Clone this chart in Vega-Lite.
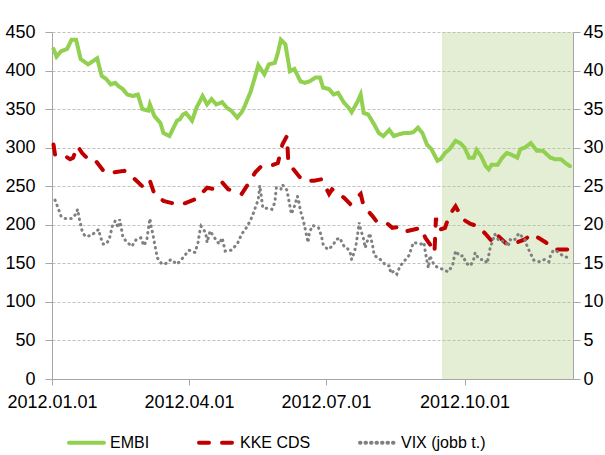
{
  "$schema": "https://vega.github.io/schema/vega-lite/v6.json",
  "width": 521,
  "height": 347,
  "autosize": {"type": "none"},
  "padding": {"left": 52, "top": 32, "right": 32, "bottom": 76},
  "background": "white",
  "config": {
    "view": {"stroke": null},
    "font": "Liberation Sans",
    "axis": {
      "labelFont": "Liberation Sans",
      "labelFontSize": 18,
      "labelColor": "#000000",
      "domainColor": "#a6a6a6",
      "tickColor": "#a6a6a6",
      "title": null
    },
    "legend": {
      "orient": "none",
      "legendX": 15,
      "legendY": 391,
      "direction": "horizontal",
      "labelFont": "Liberation Sans",
      "labelFontSize": 16,
      "labelColor": "#000000",
      "symbolSize": 1225,
      "symbolStrokeWidth": 4,
      "symbolType": "stroke",
      "labelOffset": 4,
      "columnPadding": 41,
      "padding": 0
    }
  },
  "datasets": {
    "band": [{"d": "2012-09-16", "end": "2012-12-12"}],
    "series": [
      {"d": "2012-01-02", "s": "EMBI", "v": 428},
      {"d": "2012-01-04", "s": "EMBI", "v": 418},
      {"d": "2012-01-07", "s": "EMBI", "v": 425},
      {"d": "2012-01-11", "s": "EMBI", "v": 428},
      {"d": "2012-01-14", "s": "EMBI", "v": 440},
      {"d": "2012-01-17", "s": "EMBI", "v": 440},
      {"d": "2012-01-20", "s": "EMBI", "v": 415},
      {"d": "2012-01-25", "s": "EMBI", "v": 408},
      {"d": "2012-01-28", "s": "EMBI", "v": 412},
      {"d": "2012-01-31", "s": "EMBI", "v": 416},
      {"d": "2012-02-03", "s": "EMBI", "v": 393},
      {"d": "2012-02-06", "s": "EMBI", "v": 389},
      {"d": "2012-02-09", "s": "EMBI", "v": 382},
      {"d": "2012-02-12", "s": "EMBI", "v": 384},
      {"d": "2012-02-14", "s": "EMBI", "v": 380},
      {"d": "2012-02-17", "s": "EMBI", "v": 376},
      {"d": "2012-02-20", "s": "EMBI", "v": 369},
      {"d": "2012-02-24", "s": "EMBI", "v": 367},
      {"d": "2012-02-27", "s": "EMBI", "v": 369},
      {"d": "2012-03-01", "s": "EMBI", "v": 350},
      {"d": "2012-03-05", "s": "EMBI", "v": 348},
      {"d": "2012-03-06", "s": "EMBI", "v": 356},
      {"d": "2012-03-09", "s": "EMBI", "v": 341},
      {"d": "2012-03-13", "s": "EMBI", "v": 332},
      {"d": "2012-03-15", "s": "EMBI", "v": 319},
      {"d": "2012-03-19", "s": "EMBI", "v": 315},
      {"d": "2012-03-24", "s": "EMBI", "v": 335},
      {"d": "2012-03-26", "s": "EMBI", "v": 337},
      {"d": "2012-03-28", "s": "EMBI", "v": 343},
      {"d": "2012-03-30", "s": "EMBI", "v": 345},
      {"d": "2012-04-03", "s": "EMBI", "v": 335},
      {"d": "2012-04-06", "s": "EMBI", "v": 352},
      {"d": "2012-04-10", "s": "EMBI", "v": 367},
      {"d": "2012-04-13", "s": "EMBI", "v": 356},
      {"d": "2012-04-16", "s": "EMBI", "v": 363},
      {"d": "2012-04-19", "s": "EMBI", "v": 356},
      {"d": "2012-04-23", "s": "EMBI", "v": 359},
      {"d": "2012-04-26", "s": "EMBI", "v": 352},
      {"d": "2012-04-29", "s": "EMBI", "v": 348},
      {"d": "2012-05-03", "s": "EMBI", "v": 339},
      {"d": "2012-05-06", "s": "EMBI", "v": 346},
      {"d": "2012-05-08", "s": "EMBI", "v": 354},
      {"d": "2012-05-12", "s": "EMBI", "v": 373},
      {"d": "2012-05-15", "s": "EMBI", "v": 393},
      {"d": "2012-05-17", "s": "EMBI", "v": 407},
      {"d": "2012-05-21", "s": "EMBI", "v": 395},
      {"d": "2012-05-24", "s": "EMBI", "v": 408},
      {"d": "2012-05-28", "s": "EMBI", "v": 410},
      {"d": "2012-05-30", "s": "EMBI", "v": 423},
      {"d": "2012-06-01", "s": "EMBI", "v": 440},
      {"d": "2012-06-04", "s": "EMBI", "v": 434},
      {"d": "2012-06-07", "s": "EMBI", "v": 399},
      {"d": "2012-06-10", "s": "EMBI", "v": 402},
      {"d": "2012-06-14", "s": "EMBI", "v": 386},
      {"d": "2012-06-17", "s": "EMBI", "v": 384},
      {"d": "2012-06-20", "s": "EMBI", "v": 386},
      {"d": "2012-06-24", "s": "EMBI", "v": 391},
      {"d": "2012-06-27", "s": "EMBI", "v": 391},
      {"d": "2012-06-29", "s": "EMBI", "v": 378},
      {"d": "2012-07-03", "s": "EMBI", "v": 376},
      {"d": "2012-07-06", "s": "EMBI", "v": 369},
      {"d": "2012-07-09", "s": "EMBI", "v": 371},
      {"d": "2012-07-13", "s": "EMBI", "v": 358},
      {"d": "2012-07-16", "s": "EMBI", "v": 352},
      {"d": "2012-07-18", "s": "EMBI", "v": 346},
      {"d": "2012-07-22", "s": "EMBI", "v": 360},
      {"d": "2012-07-24", "s": "EMBI", "v": 369},
      {"d": "2012-07-26", "s": "EMBI", "v": 345},
      {"d": "2012-07-29", "s": "EMBI", "v": 343},
      {"d": "2012-08-02", "s": "EMBI", "v": 330},
      {"d": "2012-08-05", "s": "EMBI", "v": 319},
      {"d": "2012-08-08", "s": "EMBI", "v": 315},
      {"d": "2012-08-12", "s": "EMBI", "v": 323},
      {"d": "2012-08-15", "s": "EMBI", "v": 315},
      {"d": "2012-08-18", "s": "EMBI", "v": 317},
      {"d": "2012-08-22", "s": "EMBI", "v": 319},
      {"d": "2012-08-25", "s": "EMBI", "v": 319},
      {"d": "2012-08-28", "s": "EMBI", "v": 320},
      {"d": "2012-08-31", "s": "EMBI", "v": 326},
      {"d": "2012-09-03", "s": "EMBI", "v": 319},
      {"d": "2012-09-06", "s": "EMBI", "v": 304},
      {"d": "2012-09-09", "s": "EMBI", "v": 298},
      {"d": "2012-09-13", "s": "EMBI", "v": 283},
      {"d": "2012-09-15", "s": "EMBI", "v": 285},
      {"d": "2012-09-18", "s": "EMBI", "v": 293},
      {"d": "2012-09-21", "s": "EMBI", "v": 298},
      {"d": "2012-09-25", "s": "EMBI", "v": 309},
      {"d": "2012-09-28", "s": "EMBI", "v": 306},
      {"d": "2012-10-01", "s": "EMBI", "v": 300},
      {"d": "2012-10-04", "s": "EMBI", "v": 287},
      {"d": "2012-10-07", "s": "EMBI", "v": 287},
      {"d": "2012-10-09", "s": "EMBI", "v": 297},
      {"d": "2012-10-12", "s": "EMBI", "v": 289},
      {"d": "2012-10-15", "s": "EMBI", "v": 276},
      {"d": "2012-10-17", "s": "EMBI", "v": 272},
      {"d": "2012-10-19", "s": "EMBI", "v": 278},
      {"d": "2012-10-23", "s": "EMBI", "v": 278},
      {"d": "2012-10-26", "s": "EMBI", "v": 287},
      {"d": "2012-10-29", "s": "EMBI", "v": 293},
      {"d": "2012-11-01", "s": "EMBI", "v": 291},
      {"d": "2012-11-05", "s": "EMBI", "v": 287},
      {"d": "2012-11-07", "s": "EMBI", "v": 298},
      {"d": "2012-11-10", "s": "EMBI", "v": 300},
      {"d": "2012-11-14", "s": "EMBI", "v": 306},
      {"d": "2012-11-18", "s": "EMBI", "v": 296},
      {"d": "2012-11-22", "s": "EMBI", "v": 296},
      {"d": "2012-11-27", "s": "EMBI", "v": 287},
      {"d": "2012-11-30", "s": "EMBI", "v": 285},
      {"d": "2012-12-04", "s": "EMBI", "v": 285},
      {"d": "2012-12-07", "s": "EMBI", "v": 280},
      {"d": "2012-12-10", "s": "EMBI", "v": 276},

      {"d": "2012-01-02", "s": "KKE CDS", "v": 304},
      {"d": "2012-01-03", "s": "KKE CDS", "v": 291},
      {"d": "2012-01-08", "s": "KKE CDS", "v": 291},
      {"d": "2012-01-13", "s": "KKE CDS", "v": 285},
      {"d": "2012-01-15", "s": "KKE CDS", "v": 287},
      {"d": "2012-01-18", "s": "KKE CDS", "v": 302},
      {"d": "2012-01-21", "s": "KKE CDS", "v": 293},
      {"d": "2012-01-26", "s": "KKE CDS", "v": 283},
      {"d": "2012-01-30", "s": "KKE CDS", "v": 283},
      {"d": "2012-02-05", "s": "KKE CDS", "v": 268},
      {"d": "2012-02-11", "s": "KKE CDS", "v": 268},
      {"d": "2012-02-18", "s": "KKE CDS", "v": 270},
      {"d": "2012-02-24", "s": "KKE CDS", "v": 261},
      {"d": "2012-03-02", "s": "KKE CDS", "v": 248},
      {"d": "2012-03-06", "s": "KKE CDS", "v": 257},
      {"d": "2012-03-09", "s": "KKE CDS", "v": 240},
      {"d": "2012-03-15", "s": "KKE CDS", "v": 231},
      {"d": "2012-03-23", "s": "KKE CDS", "v": 227},
      {"d": "2012-03-28", "s": "KKE CDS", "v": 227},
      {"d": "2012-04-05", "s": "KKE CDS", "v": 233},
      {"d": "2012-04-09", "s": "KKE CDS", "v": 240},
      {"d": "2012-04-13", "s": "KKE CDS", "v": 248},
      {"d": "2012-04-18", "s": "KKE CDS", "v": 246},
      {"d": "2012-04-23", "s": "KKE CDS", "v": 255},
      {"d": "2012-04-27", "s": "KKE CDS", "v": 246},
      {"d": "2012-05-06", "s": "KKE CDS", "v": 240},
      {"d": "2012-05-10", "s": "KKE CDS", "v": 252},
      {"d": "2012-05-15", "s": "KKE CDS", "v": 268},
      {"d": "2012-05-19", "s": "KKE CDS", "v": 276},
      {"d": "2012-05-26", "s": "KKE CDS", "v": 277},
      {"d": "2012-05-30", "s": "KKE CDS", "v": 280},
      {"d": "2012-06-02", "s": "KKE CDS", "v": 304},
      {"d": "2012-06-05", "s": "KKE CDS", "v": 315},
      {"d": "2012-06-06", "s": "KKE CDS", "v": 280},
      {"d": "2012-06-13", "s": "KKE CDS", "v": 263},
      {"d": "2012-06-16", "s": "KKE CDS", "v": 257},
      {"d": "2012-06-23", "s": "KKE CDS", "v": 257},
      {"d": "2012-06-28", "s": "KKE CDS", "v": 259},
      {"d": "2012-07-03", "s": "KKE CDS", "v": 240},
      {"d": "2012-07-05", "s": "KKE CDS", "v": 246},
      {"d": "2012-07-13", "s": "KKE CDS", "v": 235},
      {"d": "2012-07-17", "s": "KKE CDS", "v": 227},
      {"d": "2012-07-24", "s": "KKE CDS", "v": 240},
      {"d": "2012-07-26", "s": "KKE CDS", "v": 224},
      {"d": "2012-08-01", "s": "KKE CDS", "v": 211},
      {"d": "2012-08-04", "s": "KKE CDS", "v": 203},
      {"d": "2012-08-11", "s": "KKE CDS", "v": 201},
      {"d": "2012-08-14", "s": "KKE CDS", "v": 196},
      {"d": "2012-08-21", "s": "KKE CDS", "v": 198},
      {"d": "2012-08-24", "s": "KKE CDS", "v": 192},
      {"d": "2012-09-02", "s": "KKE CDS", "v": 196},
      {"d": "2012-09-05", "s": "KKE CDS", "v": 183},
      {"d": "2012-09-09", "s": "KKE CDS", "v": 172},
      {"d": "2012-09-11", "s": "KKE CDS", "v": 164},
      {"d": "2012-09-12", "s": "KKE CDS", "v": 209},
      {"d": "2012-09-13", "s": "KKE CDS", "v": 194},
      {"d": "2012-09-15", "s": "KKE CDS", "v": 194},
      {"d": "2012-09-18", "s": "KKE CDS", "v": 196},
      {"d": "2012-09-21", "s": "KKE CDS", "v": 213},
      {"d": "2012-09-25", "s": "KKE CDS", "v": 224},
      {"d": "2012-09-30", "s": "KKE CDS", "v": 207},
      {"d": "2012-10-05", "s": "KKE CDS", "v": 201},
      {"d": "2012-10-10", "s": "KKE CDS", "v": 198},
      {"d": "2012-10-15", "s": "KKE CDS", "v": 188},
      {"d": "2012-10-19", "s": "KKE CDS", "v": 179},
      {"d": "2012-10-22", "s": "KKE CDS", "v": 188},
      {"d": "2012-10-29", "s": "KKE CDS", "v": 175},
      {"d": "2012-11-02", "s": "KKE CDS", "v": 175},
      {"d": "2012-11-10", "s": "KKE CDS", "v": 181},
      {"d": "2012-11-15", "s": "KKE CDS", "v": 188},
      {"d": "2012-11-24", "s": "KKE CDS", "v": 177},
      {"d": "2012-11-30", "s": "KKE CDS", "v": 168},
      {"d": "2012-12-09", "s": "KKE CDS", "v": 168},
      {"d": "2012-12-10", "s": "KKE CDS", "v": 164},

      {"d": "2012-01-03", "s": "VIX (jobb t.)", "v": 23.2},
      {"d": "2012-01-05", "s": "VIX (jobb t.)", "v": 22.2},
      {"d": "2012-01-07", "s": "VIX (jobb t.)", "v": 21.1},
      {"d": "2012-01-10", "s": "VIX (jobb t.)", "v": 20.8},
      {"d": "2012-01-14", "s": "VIX (jobb t.)", "v": 20.8},
      {"d": "2012-01-17", "s": "VIX (jobb t.)", "v": 21.4},
      {"d": "2012-01-18", "s": "VIX (jobb t.)", "v": 22.0},
      {"d": "2012-01-19", "s": "VIX (jobb t.)", "v": 20.9},
      {"d": "2012-01-21", "s": "VIX (jobb t.)", "v": 19.2},
      {"d": "2012-01-23", "s": "VIX (jobb t.)", "v": 18.5},
      {"d": "2012-01-27", "s": "VIX (jobb t.)", "v": 18.6},
      {"d": "2012-02-01", "s": "VIX (jobb t.)", "v": 19.4},
      {"d": "2012-02-02", "s": "VIX (jobb t.)", "v": 18.5},
      {"d": "2012-02-04", "s": "VIX (jobb t.)", "v": 17.5},
      {"d": "2012-02-06", "s": "VIX (jobb t.)", "v": 17.5},
      {"d": "2012-02-08", "s": "VIX (jobb t.)", "v": 18.1},
      {"d": "2012-02-10", "s": "VIX (jobb t.)", "v": 19.8},
      {"d": "2012-02-12", "s": "VIX (jobb t.)", "v": 20.5},
      {"d": "2012-02-14", "s": "VIX (jobb t.)", "v": 19.6},
      {"d": "2012-02-15", "s": "VIX (jobb t.)", "v": 20.7},
      {"d": "2012-02-17", "s": "VIX (jobb t.)", "v": 18.5},
      {"d": "2012-02-19", "s": "VIX (jobb t.)", "v": 17.9},
      {"d": "2012-02-23", "s": "VIX (jobb t.)", "v": 17.2},
      {"d": "2012-02-26", "s": "VIX (jobb t.)", "v": 18.1},
      {"d": "2012-02-29", "s": "VIX (jobb t.)", "v": 18.3},
      {"d": "2012-03-02", "s": "VIX (jobb t.)", "v": 17.3},
      {"d": "2012-03-04", "s": "VIX (jobb t.)", "v": 18.1},
      {"d": "2012-03-06", "s": "VIX (jobb t.)", "v": 20.8},
      {"d": "2012-03-07", "s": "VIX (jobb t.)", "v": 19.6},
      {"d": "2012-03-08", "s": "VIX (jobb t.)", "v": 18.8},
      {"d": "2012-03-09", "s": "VIX (jobb t.)", "v": 17.7},
      {"d": "2012-03-11", "s": "VIX (jobb t.)", "v": 15.7},
      {"d": "2012-03-14", "s": "VIX (jobb t.)", "v": 14.9},
      {"d": "2012-03-17", "s": "VIX (jobb t.)", "v": 15.0},
      {"d": "2012-03-20", "s": "VIX (jobb t.)", "v": 15.5},
      {"d": "2012-03-24", "s": "VIX (jobb t.)", "v": 14.9},
      {"d": "2012-03-27", "s": "VIX (jobb t.)", "v": 15.5},
      {"d": "2012-04-01", "s": "VIX (jobb t.)", "v": 16.7},
      {"d": "2012-04-05", "s": "VIX (jobb t.)", "v": 16.4},
      {"d": "2012-04-07", "s": "VIX (jobb t.)", "v": 17.7},
      {"d": "2012-04-08", "s": "VIX (jobb t.)", "v": 19.0},
      {"d": "2012-04-09", "s": "VIX (jobb t.)", "v": 19.8},
      {"d": "2012-04-12", "s": "VIX (jobb t.)", "v": 19.0},
      {"d": "2012-04-13", "s": "VIX (jobb t.)", "v": 17.7},
      {"d": "2012-04-15", "s": "VIX (jobb t.)", "v": 19.2},
      {"d": "2012-04-18", "s": "VIX (jobb t.)", "v": 18.3},
      {"d": "2012-04-21", "s": "VIX (jobb t.)", "v": 17.5},
      {"d": "2012-04-23", "s": "VIX (jobb t.)", "v": 18.3},
      {"d": "2012-04-25", "s": "VIX (jobb t.)", "v": 16.6},
      {"d": "2012-04-29", "s": "VIX (jobb t.)", "v": 16.7},
      {"d": "2012-05-03", "s": "VIX (jobb t.)", "v": 17.5},
      {"d": "2012-05-06", "s": "VIX (jobb t.)", "v": 18.8},
      {"d": "2012-05-09", "s": "VIX (jobb t.)", "v": 19.6},
      {"d": "2012-05-11", "s": "VIX (jobb t.)", "v": 20.3},
      {"d": "2012-05-13", "s": "VIX (jobb t.)", "v": 21.1},
      {"d": "2012-05-15", "s": "VIX (jobb t.)", "v": 22.2},
      {"d": "2012-05-17", "s": "VIX (jobb t.)", "v": 23.3},
      {"d": "2012-05-18", "s": "VIX (jobb t.)", "v": 25.1},
      {"d": "2012-05-20", "s": "VIX (jobb t.)", "v": 22.2},
      {"d": "2012-05-24", "s": "VIX (jobb t.)", "v": 22.1},
      {"d": "2012-05-26", "s": "VIX (jobb t.)", "v": 22.0},
      {"d": "2012-05-28", "s": "VIX (jobb t.)", "v": 22.9},
      {"d": "2012-05-29", "s": "VIX (jobb t.)", "v": 24.8},
      {"d": "2012-06-01", "s": "VIX (jobb t.)", "v": 24.6},
      {"d": "2012-06-02", "s": "VIX (jobb t.)", "v": 25.2},
      {"d": "2012-06-05", "s": "VIX (jobb t.)", "v": 24.5},
      {"d": "2012-06-06", "s": "VIX (jobb t.)", "v": 23.5},
      {"d": "2012-06-07", "s": "VIX (jobb t.)", "v": 22.4},
      {"d": "2012-06-08", "s": "VIX (jobb t.)", "v": 21.4},
      {"d": "2012-06-10", "s": "VIX (jobb t.)", "v": 22.4},
      {"d": "2012-06-12", "s": "VIX (jobb t.)", "v": 23.7},
      {"d": "2012-06-13", "s": "VIX (jobb t.)", "v": 22.9},
      {"d": "2012-06-14", "s": "VIX (jobb t.)", "v": 21.8},
      {"d": "2012-06-16", "s": "VIX (jobb t.)", "v": 20.5},
      {"d": "2012-06-17", "s": "VIX (jobb t.)", "v": 19.6},
      {"d": "2012-06-19", "s": "VIX (jobb t.)", "v": 17.7},
      {"d": "2012-06-20", "s": "VIX (jobb t.)", "v": 19.0},
      {"d": "2012-06-22", "s": "VIX (jobb t.)", "v": 19.9},
      {"d": "2012-06-24", "s": "VIX (jobb t.)", "v": 19.8},
      {"d": "2012-06-26", "s": "VIX (jobb t.)", "v": 19.6},
      {"d": "2012-06-28", "s": "VIX (jobb t.)", "v": 18.5},
      {"d": "2012-06-29", "s": "VIX (jobb t.)", "v": 17.5},
      {"d": "2012-07-02", "s": "VIX (jobb t.)", "v": 16.8},
      {"d": "2012-07-05", "s": "VIX (jobb t.)", "v": 17.2},
      {"d": "2012-07-08", "s": "VIX (jobb t.)", "v": 18.1},
      {"d": "2012-07-10", "s": "VIX (jobb t.)", "v": 18.3},
      {"d": "2012-07-13", "s": "VIX (jobb t.)", "v": 17.2},
      {"d": "2012-07-15", "s": "VIX (jobb t.)", "v": 17.0},
      {"d": "2012-07-17", "s": "VIX (jobb t.)", "v": 16.4},
      {"d": "2012-07-18", "s": "VIX (jobb t.)", "v": 15.5},
      {"d": "2012-07-20", "s": "VIX (jobb t.)", "v": 16.6},
      {"d": "2012-07-21", "s": "VIX (jobb t.)", "v": 17.5},
      {"d": "2012-07-22", "s": "VIX (jobb t.)", "v": 18.8},
      {"d": "2012-07-23", "s": "VIX (jobb t.)", "v": 20.3},
      {"d": "2012-07-24", "s": "VIX (jobb t.)", "v": 19.4},
      {"d": "2012-07-26", "s": "VIX (jobb t.)", "v": 18.1},
      {"d": "2012-07-27", "s": "VIX (jobb t.)", "v": 17.0},
      {"d": "2012-07-30", "s": "VIX (jobb t.)", "v": 18.9},
      {"d": "2012-07-31", "s": "VIX (jobb t.)", "v": 18.1},
      {"d": "2012-08-01", "s": "VIX (jobb t.)", "v": 17.2},
      {"d": "2012-08-02", "s": "VIX (jobb t.)", "v": 16.0},
      {"d": "2012-08-05", "s": "VIX (jobb t.)", "v": 15.7},
      {"d": "2012-08-07", "s": "VIX (jobb t.)", "v": 15.3},
      {"d": "2012-08-10", "s": "VIX (jobb t.)", "v": 14.7},
      {"d": "2012-08-12", "s": "VIX (jobb t.)", "v": 14.7},
      {"d": "2012-08-13", "s": "VIX (jobb t.)", "v": 13.7},
      {"d": "2012-08-15", "s": "VIX (jobb t.)", "v": 14.0},
      {"d": "2012-08-17", "s": "VIX (jobb t.)", "v": 13.6},
      {"d": "2012-08-19", "s": "VIX (jobb t.)", "v": 14.6},
      {"d": "2012-08-22", "s": "VIX (jobb t.)", "v": 15.3},
      {"d": "2012-08-25", "s": "VIX (jobb t.)", "v": 16.0},
      {"d": "2012-08-28", "s": "VIX (jobb t.)", "v": 17.7},
      {"d": "2012-09-02", "s": "VIX (jobb t.)", "v": 17.5},
      {"d": "2012-09-04", "s": "VIX (jobb t.)", "v": 17.7},
      {"d": "2012-09-05", "s": "VIX (jobb t.)", "v": 16.4},
      {"d": "2012-09-06", "s": "VIX (jobb t.)", "v": 15.3},
      {"d": "2012-09-07", "s": "VIX (jobb t.)", "v": 14.4},
      {"d": "2012-09-08", "s": "VIX (jobb t.)", "v": 16.0},
      {"d": "2012-09-09", "s": "VIX (jobb t.)", "v": 15.5},
      {"d": "2012-09-11", "s": "VIX (jobb t.)", "v": 14.7},
      {"d": "2012-09-14", "s": "VIX (jobb t.)", "v": 14.4},
      {"d": "2012-09-17", "s": "VIX (jobb t.)", "v": 14.2},
      {"d": "2012-09-20", "s": "VIX (jobb t.)", "v": 13.9},
      {"d": "2012-09-23", "s": "VIX (jobb t.)", "v": 14.7},
      {"d": "2012-09-24", "s": "VIX (jobb t.)", "v": 15.7},
      {"d": "2012-09-25", "s": "VIX (jobb t.)", "v": 16.6},
      {"d": "2012-09-28", "s": "VIX (jobb t.)", "v": 15.9},
      {"d": "2012-09-30", "s": "VIX (jobb t.)", "v": 16.0},
      {"d": "2012-10-02", "s": "VIX (jobb t.)", "v": 15.0},
      {"d": "2012-10-05", "s": "VIX (jobb t.)", "v": 14.7},
      {"d": "2012-10-07", "s": "VIX (jobb t.)", "v": 15.5},
      {"d": "2012-10-08", "s": "VIX (jobb t.)", "v": 16.4},
      {"d": "2012-10-10", "s": "VIX (jobb t.)", "v": 15.7},
      {"d": "2012-10-12", "s": "VIX (jobb t.)", "v": 15.5},
      {"d": "2012-10-14", "s": "VIX (jobb t.)", "v": 15.5},
      {"d": "2012-10-16", "s": "VIX (jobb t.)", "v": 15.0},
      {"d": "2012-10-17", "s": "VIX (jobb t.)", "v": 16.0},
      {"d": "2012-10-18", "s": "VIX (jobb t.)", "v": 17.0},
      {"d": "2012-10-20", "s": "VIX (jobb t.)", "v": 18.1},
      {"d": "2012-10-21", "s": "VIX (jobb t.)", "v": 18.8},
      {"d": "2012-10-24", "s": "VIX (jobb t.)", "v": 17.9},
      {"d": "2012-10-28", "s": "VIX (jobb t.)", "v": 17.9},
      {"d": "2012-10-30", "s": "VIX (jobb t.)", "v": 17.2},
      {"d": "2012-10-31", "s": "VIX (jobb t.)", "v": 18.1},
      {"d": "2012-11-02", "s": "VIX (jobb t.)", "v": 17.9},
      {"d": "2012-11-04", "s": "VIX (jobb t.)", "v": 18.2},
      {"d": "2012-11-06", "s": "VIX (jobb t.)", "v": 18.9},
      {"d": "2012-11-08", "s": "VIX (jobb t.)", "v": 18.5},
      {"d": "2012-11-10", "s": "VIX (jobb t.)", "v": 18.1},
      {"d": "2012-11-11", "s": "VIX (jobb t.)", "v": 17.5},
      {"d": "2012-11-13", "s": "VIX (jobb t.)", "v": 16.6},
      {"d": "2012-11-14", "s": "VIX (jobb t.)", "v": 16.2},
      {"d": "2012-11-16", "s": "VIX (jobb t.)", "v": 15.4},
      {"d": "2012-11-20", "s": "VIX (jobb t.)", "v": 15.2},
      {"d": "2012-11-23", "s": "VIX (jobb t.)", "v": 15.5},
      {"d": "2012-11-26", "s": "VIX (jobb t.)", "v": 15.2},
      {"d": "2012-11-27", "s": "VIX (jobb t.)", "v": 16.0},
      {"d": "2012-11-29", "s": "VIX (jobb t.)", "v": 16.7},
      {"d": "2012-12-02", "s": "VIX (jobb t.)", "v": 16.5},
      {"d": "2012-12-05", "s": "VIX (jobb t.)", "v": 16.0},
      {"d": "2012-12-09", "s": "VIX (jobb t.)", "v": 15.7}
    ]
  },
  "encoding": {
    "x": {
      "field": "d",
      "type": "temporal",
      "scale": {
        "type": "utc",
        "domain": [
          {"year": 2012, "month": 1, "date": 1, "utc": true},
          {"year": 2012, "month": 12, "date": 12, "utc": true}
        ]
      },
      "axis": {
        "values": [
          {"year": 2012, "month": 1, "date": 1, "utc": true},
          {"year": 2012, "month": 4, "date": 1, "utc": true},
          {"year": 2012, "month": 7, "date": 1, "utc": true},
          {"year": 2012, "month": 10, "date": 1, "utc": true}
        ],
        "format": "%Y.%m.%d",
        "tickSize": 6,
        "labelPadding": 8,
        "labelFlush": false,
        "labelOverlap": false,
        "grid": false,
        "title": null
      }
    }
  },
  "layer": [
    {
      "data": {"name": "band"},
      "mark": {"type": "rect", "fill": "#b2cf86", "opacity": 0.35},
      "encoding": {"x2": {"field": "end"}}
    },
    {
      "data": {"name": "series"},
      "transform": [{"filter": {"field": "s", "oneOf": ["EMBI", "KKE CDS"]}}],
      "mark": {"type": "line", "strokeWidth": 4, "strokeCap": "round"},
      "encoding": {
        "y": {
          "field": "v",
          "type": "quantitative",
          "scale": {"domain": [0, 450], "nice": false},
          "axis": {
            "orient": "left",
            "values": [0, 50, 100, 150, 200, 250, 300, 350, 400, 450],
            "grid": true,
            "gridDash": [3, 2],
            "gridColor": "#c0c0c0",
            "tickSize": 7,
            "labelPadding": 10,
            "title": null
          }
        },
        "color": {
          "field": "s",
          "type": "nominal",
          "scale": {"domain": ["EMBI", "KKE CDS", "VIX (jobb t.)"], "range": ["#92d050", "#c00000", "#808080"]},
          "legend": {"title": null, "encode": {"symbols": {"update": {"strokeCap": {"value": "round"}}}}}
        },
        "strokeDash": {
          "field": "s",
          "type": "nominal",
          "scale": {"domain": ["EMBI", "KKE CDS", "VIX (jobb t.)"], "range": [[1, 0], [10, 13], [0.5, 5]]},
          "legend": {"title": null, "encode": {"symbols": {"update": {"strokeCap": {"value": "round"}}}}}
        }
      }
    },
    {
      "data": {"name": "series"},
      "transform": [{"filter": {"field": "s", "equal": "VIX (jobb t.)"}}],
      "mark": {"type": "line", "strokeWidth": 3, "strokeCap": "round"},
      "encoding": {
        "y": {
          "field": "v",
          "type": "quantitative",
          "scale": {"domain": [0, 45], "nice": false},
          "axis": {
            "orient": "right",
            "values": [0, 5, 10, 15, 20, 25, 30, 35, 40, 45],
            "grid": false,
            "tickSize": 7,
            "labelPadding": 3,
            "title": null
          }
        },
        "color": {"field": "s", "type": "nominal", "legend": {"title": null, "encode": {"symbols": {"update": {"strokeCap": {"value": "round"}}}}}},
        "strokeDash": {"field": "s", "type": "nominal", "legend": {"title": null, "encode": {"symbols": {"update": {"strokeCap": {"value": "round"}}}}}}
      }
    }
  ],
  "resolve": {"scale": {"y": "independent"}}
}
